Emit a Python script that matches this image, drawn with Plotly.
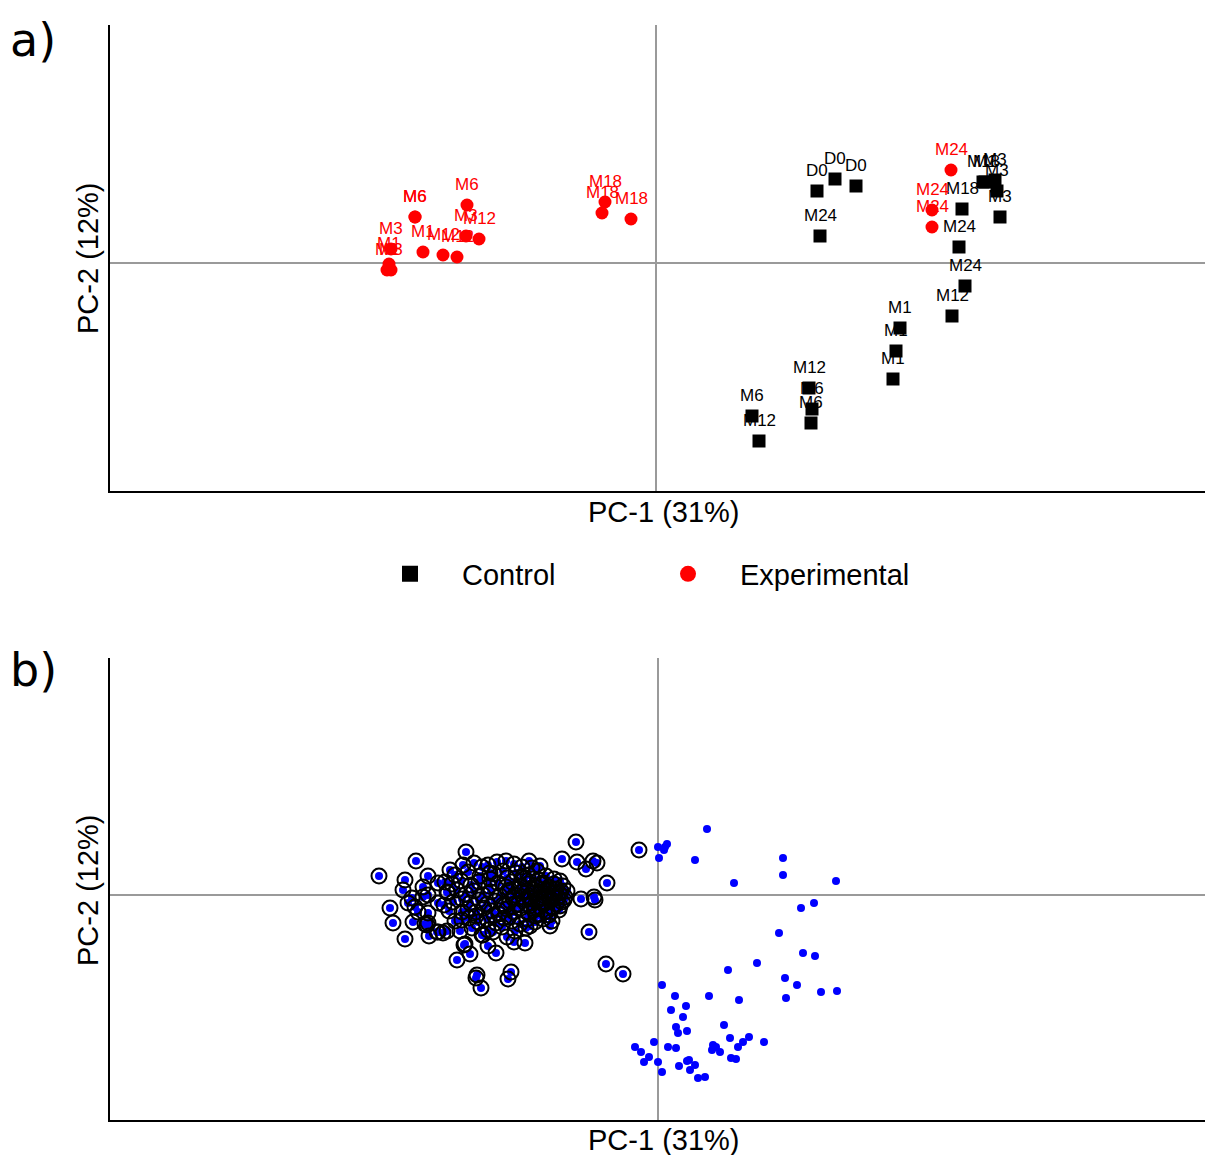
import plotly.graph_objects as go

# ---------------- Panel a data (PC scores) ----------------
ctrl_pc1 = [16.1, 17.9, 20.0, 16.4, 30.6, 30.3, 30.9, 29.6, 24.4, 24.0, 23.7,
            32.7, 32.9, 33.9, 34.1, 34.4, 15.3, 15.6, 15.5, 9.6, 10.3]
ctrl_pc2 = [7.2, 8.4, 7.7, 2.7, 5.4, 1.6, -2.3, -5.3, -6.5, -8.8, -11.6,
            8.1, 8.1, 8.3, 7.2, 4.6, -12.5, -14.6, -16.0, -15.3, -17.8]
ctrl_labels = ["D0", "D0", "D0", "M24", "M18", "M24", "M24", "M12", "M1", "M1", "M1",
               "M18", "M1", "M3", "M3", "M3", "M12", "M6", "M6", "M6", "M12"]

exp_pc1 = [-24.1, -24.1, -18.9, -19.0, -17.7, -23.3, -21.3, -19.9, -26.5, -26.7,
           -26.9, -26.5, -5.1, -5.4, -2.5, 29.5, 27.6, 27.6]
exp_pc2 = [4.6, 4.6, 5.8, 2.7, 2.4, 1.1, 0.8, 0.6, 1.4, -0.1,
           -0.7, -0.7, 6.1, 5.0, 4.4, 9.3, 5.3, 3.6]
exp_labels = ["M6", "M6", "M6", "M3", "M12", "M1", "M12", "M12", "M3", "M1",
              "M1", "M3", "M18", "M18", "M18", "M24", "M24", "M24"]

# ---------------- Panel b data ----------------
# points marked with a circle
circ_pc1 = [-27.9, -24.2, -19.2, -25.3, -23.0, -20.8, -17.6, -15.2, -15.5, -13.6, -12.6, -13.5,
            -8.2, -9.6, -8.1, -7.2, -6.5, -6.1, -5.1, -9.1, -7.7, -6.4, -6.3, -1.9,
            -26.8, -26.5, -25.3, -24.5, -23.0, -23.1, -22.9, -22.0, -21.5, -21.1, -19.8, -19.4,
            -18.8, -20.1, -17.0, -16.2, -17.5, -16.5, -15.1, -14.4, -13.3, -12.8, -10.8, -11.0,
            -12.1, -6.9, -5.2, -3.5, -18.1, -18.2, -17.7, -14.7, -15.0, -25.5, -24.6, -25.0,
            -23.5, -23.5, -23.0, -24.3, -24.0, -22.0, -21.3, -21.1, -22.0, -21.4, -23.0, -23.3,
            -22.1, -19.6, -19.6, -19.3, -17.6, -12.5, -11.5, -16.8,
            -19.5, -18.4, -17.0, -16.1, -14.4, -12.9, -11.8,
            -20.3, -19.0, -17.8, -16.4, -15.1, -14.2, -13.0, -12.1, -11.2, -10.4, -9.8,
            -20.6, -19.7, -18.7, -17.9, -16.9, -16.0, -15.2, -14.6, -13.7, -13.0, -12.2, -11.6,
            -10.9, -10.2, -9.5,
            -21.0, -20.1, -19.2, -18.4, -17.5, -16.7, -15.8, -15.0, -14.3, -13.6, -12.9, -12.3,
            -11.7, -11.1, -10.5, -9.9, -9.3,
            -20.5, -19.6, -18.8, -17.9, -17.1, -16.3, -15.5, -14.8, -14.0, -13.3, -12.6, -12.0,
            -11.4, -10.8, -10.2, -9.6,
            -20.9, -19.0, -18.2, -17.4, -16.6, -15.9, -15.1, -14.4, -13.7, -13.0, -12.4, -11.8,
            -11.1, -10.5, -9.9,
            -20.3, -18.9, -18.0, -17.1, -16.2, -15.4, -14.6, -13.8, -13.1, -12.3, -11.5, -10.6,
            -18.6, -17.0, -15.6, -14.3, -13.2,
            -14.8, -13.9, -13.1, -12.4, -11.7, -11.0, -10.3, -9.7,
            -14.5, -13.5, -12.7, -11.9, -11.3, -10.7, -10.0, -9.4,
            -15.3, -14.1, -12.8, -11.5, -10.6, -9.8, -16.8, -13.4, -12.0, -10.4,
            -18.2, -16.4, -14.9, -12.2, -10.9]
circ_pc2 = [1.9, 3.4, 4.3, 1.5, 1.9, 2.5, 2.8, 3.4, 2.4, 2.8, 2.7, 1.8,
            5.3, 3.6, 3.3, 2.6, 3.4, 3.2, 1.2, 0.4, -0.4, -0.2, -0.5, 4.5,
            -1.3, -2.8, -4.4, -2.7, -1.8, -3.0, -4.1, -3.7, -3.8, -3.6, -3.6, -5.0,
            -5.9, -6.5, -5.1, -5.8, -4.0, -3.7, -4.2, -4.7, -4.8, -3.1, -3.1, -2.0,
            -1.9, -3.7, -6.9, -7.9, -8.0, -8.3, -9.3, -7.7, -8.4, 0.5, -0.3, -0.8,
            0.8, -0.2, 0.0, -1.2, -1.7, 1.2, 1.3, 0.3, -0.8, -1.0, -2.8, -2.9,
            -3.7, -1.7, -2.5, -4.9, -4.0, 1.6, 1.2, 2.2,
            3.0, 3.2, 3.0, 3.3, 3.1, 3.4, 2.9,
            2.0, 2.3, 1.9, 2.1, 1.7, 2.2, 2.0, 2.4, 1.9, 1.6, 1.4,
            1.1, 1.4, 1.0, 1.3, 0.9, 1.2, 0.8, 1.3, 0.9, 1.1, 0.7, 1.0,
            0.8, 0.6, 0.9,
            0.2, 0.5, 0.1, 0.4, 0.0, 0.3, -0.1, 0.4, 0.0, 0.3, -0.1, 0.2,
            -0.2, 0.1, -0.1, 0.2, -0.2,
            -0.7, -0.4, -0.8, -0.5, -0.9, -0.6, -1.0, -0.6, -0.9, -0.5, -0.8, -0.5,
            -0.9, -0.6, -0.9, -0.7,
            -1.6, -1.4, -1.7, -1.3, -1.6, -1.9, -1.4, -1.7, -1.3, -1.8, -1.5, -1.2,
            -1.6, -1.3, -1.5,
            -2.6, -2.3, -2.7, -2.4, -2.8, -2.3, -2.6, -2.9, -2.4, -2.7, -2.4, -2.6,
            -3.3, -3.5, -3.2, -3.6, -3.3,
            0.5, 0.6, 0.4, 0.5, 0.3, 0.4, 0.2, 0.4,
            -0.3, -0.2, -0.4, -0.3, -0.1, -0.4, -0.3, -0.5,
            -1.1, -1.0, -1.1, -0.9, -1.2, -1.1, 1.6, 1.6, 1.5, 1.1,
            -2.1, -2.0, -2.2, -2.1, -2.0]

# points without a circle
free_pc1 = [4.9, 0.0, 0.7, 0.9, 0.6, 0.1, 3.7, 12.5, 12.5, 17.8, 7.6, 14.3, 15.6, 12.1,
            14.5, 15.7, 9.9, 7.0, 12.7, 13.9, 16.3, 17.9, 12.8, 0.4, 1.7, 5.1, 8.1, 2.8,
            1.3, 2.5, 6.6, 1.8, 2.9, 2.0, 7.2, 9.1, 8.5, 10.6, 8.0, -0.4, -2.3, -1.7,
            1.0, 1.8, 5.5, 5.8, 5.4, 6.2, -0.9, -1.4, 0.0, 3.1, 2.9, 3.7, 2.1, 7.3,
            7.8, 0.4, 3.2, 4.0, 4.7]
free_pc2 = [6.6, 4.8, 4.8, 5.1, 4.5, 3.7, 3.5, 3.7, 2.0, 1.4, 1.2, -1.3, -0.8, -3.8,
            -5.8, -6.1, -6.8, -7.5, -8.3, -9.0, -9.7, -9.6, -10.3, -9.0, -10.1, -10.1, -10.5, -11.1,
            -11.5, -12.2, -13.0, -13.2, -13.6, -13.8, -14.3, -14.2, -14.7, -14.7, -15.2, -14.7, -15.2, -15.7,
            -15.2, -15.3, -15.0, -15.2, -15.5, -15.7, -16.2, -16.7, -16.7, -16.5, -16.6, -17.0, -17.1, -16.3,
            -16.4, -17.7, -17.5, -18.3, -18.2]

x_title = "PC-1 (31%)"
y_title = "PC-2 (12%)"
group_names = ["Control", "Experimental"]

TITLE_FONT = "Liberation Sans, Arial, sans-serif"
PANEL_FONT = "DejaVu Sans, Verdana, sans-serif"
LABEL_FONT = "Liberation Sans, Arial, sans-serif"

fig = go.Figure()

# Panel a
fig.add_trace(go.Scatter(x=ctrl_pc1, y=ctrl_pc2, mode="markers", name=group_names[0],
                         showlegend=False,
                         marker=dict(symbol="square", size=13, color="black"),
                         xaxis="x", yaxis="y", cliponaxis=False))
fig.add_trace(go.Scatter(x=exp_pc1, y=exp_pc2, mode="markers", name=group_names[1],
                         showlegend=False,
                         marker=dict(symbol="circle", size=13, color="#ff0000"),
                         xaxis="x", yaxis="y", cliponaxis=False))
# legend entries (larger symbols, as in the reference legend)
fig.add_trace(go.Scatter(x=[None], y=[None], mode="markers", name=group_names[0],
                         marker=dict(symbol="square", size=16, color="black"),
                         xaxis="x", yaxis="y"))
fig.add_trace(go.Scatter(x=[None], y=[None], mode="markers", name=group_names[1],
                         marker=dict(symbol="circle", size=16, color="#ff0000"),
                         xaxis="x", yaxis="y"))

# Panel b
fig.add_trace(go.Scatter(x=circ_pc1, y=circ_pc2, mode="markers", showlegend=False,
                         marker=dict(symbol="circle", size=8, color="#0000ff"),
                         xaxis="x2", yaxis="y2"))
fig.add_trace(go.Scatter(x=circ_pc1, y=circ_pc2, mode="markers", showlegend=False,
                         marker=dict(symbol="circle-open", size=15, color="black",
                                     line=dict(width=2, color="black")),
                         xaxis="x2", yaxis="y2"))
fig.add_trace(go.Scatter(x=free_pc1, y=free_pc2, mode="markers", showlegend=False,
                         marker=dict(symbol="circle", size=8, color="#0000ff"),
                         xaxis="x2", yaxis="y2"))

annotations = []
for xs, ys, labs, col in [(ctrl_pc1, ctrl_pc2, ctrl_labels, "black"),
                          (exp_pc1, exp_pc2, exp_labels, "#ff0000")]:
    for xv, yv, lab in zip(xs, ys, labs):
        annotations.append(dict(x=xv, y=yv, xref="x", yref="y", text=lab, showarrow=False,
                                yshift=21, font=dict(family=LABEL_FONT, size=17, color=col)))

W, H = 1206, 1155
def px(xp):
    return xp / W
def py(yp):
    return 1 - yp / H

for cy_x, cy_y in [(512, 258), (1140, 890)]:
    annotations.append(dict(x=px(664), y=py(cy_x), xref="paper", yref="paper", text=x_title,
                            showarrow=False, xanchor="center", yanchor="middle",
                            font=dict(family=TITLE_FONT, size=29, color="black")))
    annotations.append(dict(x=px(88), y=py(cy_y), xref="paper", yref="paper", text=y_title,
                            showarrow=False, xanchor="center", yanchor="middle", textangle=-90,
                            font=dict(family=TITLE_FONT, size=29, color="black")))
for txt, yy in [("a)", 40), ("b)", 670)]:
    annotations.append(dict(x=px(8), y=py(yy), xref="paper", yref="paper", text=txt,
                            showarrow=False, xanchor="left", yanchor="middle",
                            font=dict(family=PANEL_FONT, size=46, color="black")))

axis_style = dict(showgrid=False, zeroline=True, zerolinecolor="#9a9a9a", zerolinewidth=1.5,
                  showline=True, linecolor="black", linewidth=1.5, showticklabels=False,
                  ticks="", mirror=False, fixedrange=True)

fig.update_layout(
    width=W, height=H,
    margin=dict(l=0, r=0, t=0, b=0),
    paper_bgcolor="white", plot_bgcolor="white",
    xaxis=dict(domain=[110 / W, 1205 / W], range=[-54.6, 54.9], anchor="y", **axis_style),
    yaxis=dict(domain=[py(491), py(25)], range=[-22.8, 23.8], anchor="x", **axis_style),
    xaxis2=dict(domain=[110 / W, 1205 / W], range=[-54.8, 54.7], anchor="y2", **axis_style),
    yaxis2=dict(domain=[py(1120), py(658)], range=[-22.5, 23.7], anchor="x2", **axis_style),
    legend=dict(orientation="h", x=px(358), y=py(574), xanchor="left", yanchor="middle",
                font=dict(family=TITLE_FONT, size=29, color="black"),
                itemwidth=94, entrywidth=169, entrywidthmode="pixels", itemsizing="trace",
                bgcolor="rgba(0,0,0,0)"),
    annotations=annotations,
    showlegend=True,
)

fig.write_html("out.html", config={"displayModeBar": False},
               post_script="document.body.style.margin='0';")
